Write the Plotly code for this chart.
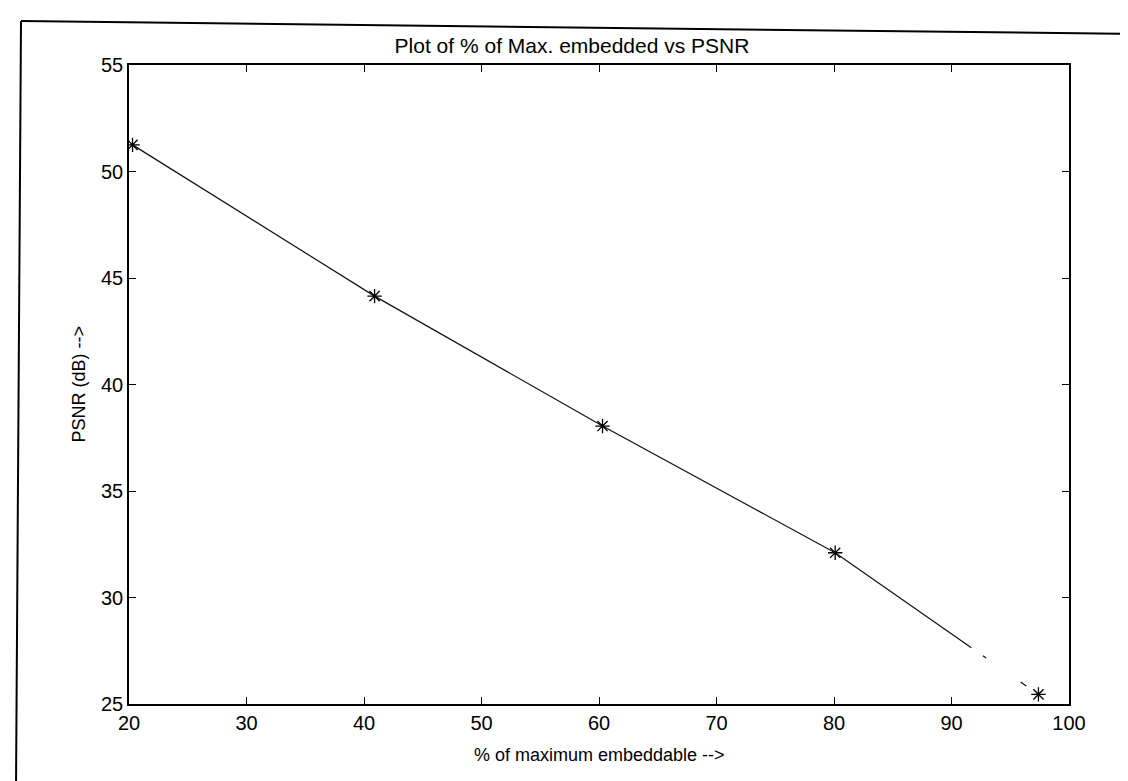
import plotly.graph_objects as go

# Data
pct_embedded = [20.3, 40.9, 60.3, 80.1, 97.4]
psnr_db = [51.25, 44.15, 38.05, 32.1, 25.45]

x_ticks = [20, 30, 40, 50, 60, 70, 80, 90, 100]
y_ticks = [25, 30, 35, 40, 45, 50, 55]

W, H = 1128, 781
ML, MR, MT, MB = 121, 67, 57, 85
PW, PH = W - ML - MR, H - MT - MB

def px(xp):
    return (xp - ML) / PW

def py(yp):
    return (H - MB - yp) / PH

font = dict(family="Liberation Sans, Arial, Helvetica, sans-serif", color="black")

fig = go.Figure()
# solid part of the curve
fig.add_trace(go.Scatter(
    x=pct_embedded[:4], y=psnr_db[:4], mode="lines",
    line=dict(color="#111111", width=1.2), showlegend=False, hoverinfo="skip",
))
# last segment is broken/faded in the scanned original
fig.add_trace(go.Scatter(
    x=pct_embedded[3:], y=psnr_db[3:], mode="lines",
    line=dict(color="#111111", width=1.2, dash="166px,14px,4px,42px,7px,30px"),
    showlegend=False, hoverinfo="skip",
))
fig.add_trace(go.Scatter(
    x=pct_embedded, y=psnr_db, mode="markers",
    marker=dict(symbol="asterisk-open", size=12, color="black",
                line=dict(color="black", width=1.3)),
    showlegend=False,
))

fig.update_layout(
    width=W, height=H,
    margin=dict(l=ML, r=MR, t=MT, b=MB),
    paper_bgcolor="white", plot_bgcolor="white",
    font=dict(size=20, **font),
    title=dict(text="Plot of % of Max. embedded vs PSNR", x=px((ML + W - MR) / 2),
               xanchor="center", y=1 - 38 / H, yanchor="middle",
               font=dict(size=21, **font)),
    shapes=[
        dict(type="line", xref="paper", yref="paper",
             x0=px(13), y0=py(13), x1=px(1128), y1=py(26),
             line=dict(color="black", width=2)),
        dict(type="line", xref="paper", yref="paper",
             x0=px(13), y0=py(13), x1=px(8), y1=py(781),
             line=dict(color="black", width=2)),
    ],
    annotations=[
        dict(text="% of maximum embeddable -->", xref="paper", yref="paper",
             x=0.5, y=py(747), xanchor="center", yanchor="middle",
             showarrow=False, font=dict(size=18, **font)),
        dict(text="PSNR (dB) -->", xref="paper", yref="paper",
             x=px(70), y=0.5, xanchor="center", yanchor="middle", textangle=-90,
             showarrow=False, font=dict(size=18, **font)),
    ],
)

fig.update_xaxes(
    range=[20, 100], tickvals=x_ticks, ticktext=[str(v) for v in x_ticks],
    ticks="inside", ticklen=7, tickcolor="black", tickwidth=1.2,
    showline=True, linecolor="black", linewidth=1.5,
    mirror="ticks", showgrid=False, zeroline=False,
    tickfont=dict(size=20, **font),
)
fig.update_yaxes(
    range=[25, 55], tickvals=y_ticks, ticktext=[str(v) for v in y_ticks],
    ticks="inside", ticklen=7, tickcolor="black", tickwidth=1.2,
    showline=True, linecolor="black", linewidth=1.5,
    mirror="ticks", showgrid=False, zeroline=False,
    tickfont=dict(size=20, **font),
)

fig.write_html("out.html")
